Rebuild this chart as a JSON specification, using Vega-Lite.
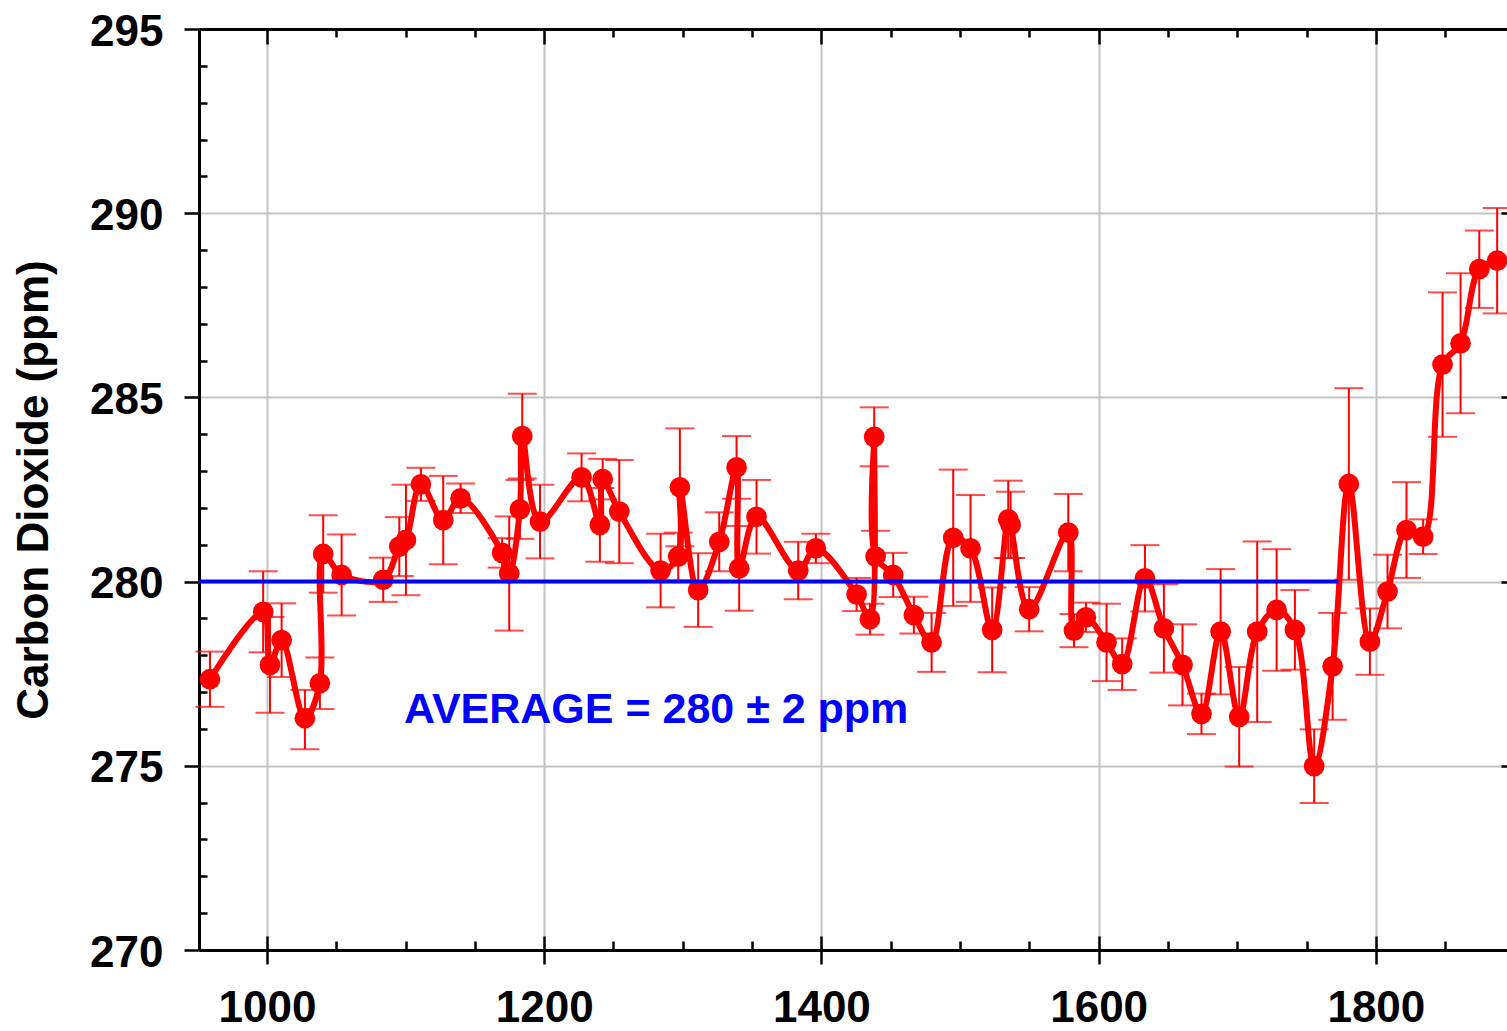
{
  "$schema": "https://vega.github.io/schema/vega-lite/v6.json",
  "width": 1308,
  "height": 921,
  "autosize": "none",
  "padding": {"left": 199, "top": 29, "right": 0, "bottom": 81},
  "background": "white",
  "config": {
    "view": {"stroke": null},
    "axis": {
      "tickColor": "black",
      "domainColor": "black",
      "labelFont": "Liberation Sans",
      "titleFont": "Liberation Sans",
      "tickWidth": 2.5,
      "domainWidth": 3
    }
  },
  "datasets": {
    "co2": [
      {"year": 958.9, "co2": 277.35, "lo": 276.6, "hi": 278.1},
      {"year": 997.3, "co2": 279.18, "lo": 278.08, "hi": 280.28},
      {"year": 1002.2, "co2": 277.74, "lo": 276.44, "hi": 279.04},
      {"year": 1010.6, "co2": 278.41, "lo": 277.41, "hi": 279.41},
      {"year": 1027.4, "co2": 276.29, "lo": 275.45, "hi": 277.06},
      {"year": 1038.2, "co2": 277.24, "lo": 276.54, "hi": 277.94},
      {"year": 1040.6, "co2": 280.75, "lo": 279.7, "hi": 281.8},
      {"year": 1053.9, "co2": 280.18, "lo": 279.08, "hi": 281.28},
      {"year": 1083.9, "co2": 280.05, "lo": 279.45, "hi": 280.65},
      {"year": 1095.5, "co2": 280.95, "lo": 280.15, "hi": 281.75},
      {"year": 1100.3, "co2": 281.13, "lo": 279.63, "hi": 282.63},
      {"year": 1111.1, "co2": 282.64, "lo": 282.19, "hi": 283.09},
      {"year": 1127.2, "co2": 281.67, "lo": 280.47, "hi": 282.87},
      {"year": 1139.7, "co2": 282.26, "lo": 281.86, "hi": 282.66},
      {"year": 1169.7, "co2": 280.78, "lo": 280.38, "hi": 281.18},
      {"year": 1174.8, "co2": 280.22, "lo": 278.67, "hi": 281.77},
      {"year": 1182.5, "co2": 281.96, "lo": 281.16, "hi": 282.76},
      {"year": 1184.2, "co2": 283.95, "lo": 282.8, "hi": 285.1},
      {"year": 1197.0, "co2": 281.63, "lo": 280.63, "hi": 282.63},
      {"year": 1227.0, "co2": 282.83, "lo": 282.18, "hi": 283.48},
      {"year": 1240.2, "co2": 281.54, "lo": 280.54, "hi": 282.54},
      {"year": 1242.2, "co2": 282.78, "lo": 282.23, "hi": 283.33},
      {"year": 1254.2, "co2": 281.9, "lo": 280.5, "hi": 283.3},
      {"year": 1284.0, "co2": 280.3, "lo": 279.3, "hi": 281.3},
      {"year": 1296.7, "co2": 280.68, "lo": 280.03, "hi": 281.33},
      {"year": 1297.9, "co2": 282.56, "lo": 280.96, "hi": 284.16},
      {"year": 1311.1, "co2": 279.77, "lo": 278.77, "hi": 280.77},
      {"year": 1326.3, "co2": 281.08, "lo": 280.28, "hi": 281.88},
      {"year": 1338.8, "co2": 283.1, "lo": 282.25, "hi": 283.95},
      {"year": 1340.7, "co2": 280.36, "lo": 279.21, "hi": 281.51},
      {"year": 1353.2, "co2": 281.76, "lo": 280.76, "hi": 282.76},
      {"year": 1383.3, "co2": 280.3, "lo": 279.52, "hi": 281.08},
      {"year": 1396.0, "co2": 280.9, "lo": 280.5, "hi": 281.3},
      {"year": 1425.4, "co2": 279.65, "lo": 279.2, "hi": 280.1},
      {"year": 1435.0, "co2": 278.98, "lo": 278.56, "hi": 279.4},
      {"year": 1438.1, "co2": 283.93, "lo": 283.13, "hi": 284.73},
      {"year": 1439.1, "co2": 280.68, "lo": 279.98, "hi": 281.38},
      {"year": 1451.8, "co2": 280.18, "lo": 279.58, "hi": 280.78},
      {"year": 1466.7, "co2": 279.09, "lo": 278.59, "hi": 279.59},
      {"year": 1479.5, "co2": 278.35, "lo": 277.55, "hi": 279.15},
      {"year": 1495.1, "co2": 281.19, "lo": 279.34, "hi": 283.04},
      {"year": 1507.6, "co2": 280.9, "lo": 279.45, "hi": 282.35},
      {"year": 1523.2, "co2": 278.69, "lo": 277.54, "hi": 279.84},
      {"year": 1534.8, "co2": 281.69, "lo": 280.64, "hi": 282.74},
      {"year": 1536.5, "co2": 281.54, "lo": 280.64, "hi": 282.44},
      {"year": 1549.9, "co2": 279.25, "lo": 278.65, "hi": 279.85},
      {"year": 1578.1, "co2": 281.33, "lo": 280.28, "hi": 282.38},
      {"year": 1582.2, "co2": 278.67, "lo": 278.22, "hi": 279.12},
      {"year": 1590.8, "co2": 279.03, "lo": 278.63, "hi": 279.43},
      {"year": 1605.7, "co2": 278.35, "lo": 277.3, "hi": 279.4},
      {"year": 1617.0, "co2": 277.76, "lo": 277.06, "hi": 278.46},
      {"year": 1633.4, "co2": 280.09, "lo": 279.19, "hi": 280.99},
      {"year": 1647.1, "co2": 278.73, "lo": 277.53, "hi": 279.93},
      {"year": 1660.5, "co2": 277.74, "lo": 276.64, "hi": 278.84},
      {"year": 1674.2, "co2": 276.41, "lo": 275.86, "hi": 276.96},
      {"year": 1688.0, "co2": 278.64, "lo": 276.94, "hi": 280.34},
      {"year": 1701.4, "co2": 276.33, "lo": 274.98, "hi": 277.68},
      {"year": 1714.4, "co2": 278.64, "lo": 276.19, "hi": 281.09},
      {"year": 1728.4, "co2": 279.23, "lo": 277.58, "hi": 280.88},
      {"year": 1741.6, "co2": 278.69, "lo": 277.61, "hi": 279.77},
      {"year": 1755.5, "co2": 274.99, "lo": 273.99, "hi": 275.99},
      {"year": 1768.8, "co2": 277.7, "lo": 276.25, "hi": 279.15},
      {"year": 1780.5, "co2": 282.65, "lo": 280.05, "hi": 285.25},
      {"year": 1795.7, "co2": 278.37, "lo": 277.47, "hi": 279.27},
      {"year": 1808.4, "co2": 279.73, "lo": 278.73, "hi": 280.73},
      {"year": 1822.1, "co2": 281.4, "lo": 280.1, "hi": 282.7},
      {"year": 1834.1, "co2": 281.22, "lo": 280.75, "hi": 281.69},
      {"year": 1848.1, "co2": 285.89, "lo": 283.93, "hi": 287.85},
      {"year": 1861.1, "co2": 286.47, "lo": 284.57, "hi": 288.37},
      {"year": 1874.6, "co2": 288.48, "lo": 287.43, "hi": 289.53},
      {"year": 1887.5, "co2": 288.71, "lo": 287.28, "hi": 290.14}
    ],
    "avg": [{"start": 951, "end": 1773, "avg": 280}],
    "note": [{"label": "AVERAGE = 280 ± 2 ppm"}]
  },
  "resolve": {"axis": {"x": "independent", "y": "independent"}},
  "layer": [
    {
      "data": {"name": "co2"},
      "mark": {"type": "rule", "color": "#ff0000", "strokeWidth": 2},
      "encoding": {
        "x": {"field": "year", "type": "quantitative",
          "scale": {"domain": [951, 1894.6], "nice": false, "zero": false},
          "axis": {"orient": "bottom", "values": [1000, 1200, 1400, 1600, 1800], "format": "d", "tickSize": 14,
            "grid": true, "gridColor": "#c4c4c4", "gridWidth": 2,
            "labelFontSize": 44, "labelFontWeight": "bold", "labelColor": "black",
            "labelPadding": 22, "labelBaseline": "top", "labelFlush": false, "labelOverlap": false,
            "title": null}},
        "y": {"field": "lo", "type": "quantitative",
          "scale": {"domain": [270, 295], "nice": false, "zero": false},
          "axis": {"orient": "left", "values": [270, 275, 280, 285, 290, 295], "tickSize": 15,
            "grid": true, "gridColor": "#c4c4c4", "gridWidth": 2,
            "labelFontSize": 44, "labelFontWeight": "bold", "labelColor": "black",
            "labelPadding": 21, "labelOffset": 3, "labelFlush": false, "labelOverlap": false,
            "title": "Carbon Dioxide (ppm)", "titleFontSize": 44, "titleFontWeight": "bold",
            "titleColor": "black", "titleAngle": 270, "titleX": -152, "titleY": 460.5,
            "titleAlign": "center", "titleBaseline": "alphabetic"}},
        "y2": {"field": "hi"}
      }
    },
    {
      "data": {"name": "co2"},
      "mark": {"type": "tick", "orient": "horizontal", "color": "#ff0000", "size": 29, "thickness": 2},
      "encoding": {
        "x": {"field": "year", "type": "quantitative",
          "axis": {"orient": "bottom", "values": [1050, 1100, 1150, 1250, 1300, 1350, 1450, 1500, 1550, 1650, 1700, 1750, 1850],
            "tickSize": -9, "labels": false, "domain": false, "grid": false, "title": null}},
        "y": {"field": "lo", "type": "quantitative",
          "axis": {"orient": "left", "values": [271, 272, 273, 274, 276, 277, 278, 279, 281, 282, 283, 284, 286, 287, 288, 289, 291, 292, 293, 294],
            "tickSize": -8, "labels": false, "domain": false, "grid": false, "title": null}}
      }
    },
    {
      "data": {"name": "co2"},
      "mark": {"type": "tick", "orient": "horizontal", "color": "#ff0000", "size": 29, "thickness": 2},
      "encoding": {
        "x": {"field": "year", "type": "quantitative",
          "axis": {"orient": "bottom", "values": [1000, 1200, 1400, 1600, 1800],
            "tickSize": -14, "labels": false, "domain": false, "grid": false, "title": null}},
        "y": {"field": "hi", "type": "quantitative",
          "axis": {"orient": "right", "offset": 8, "values": [271, 272, 273, 274, 276, 277, 278, 279, 281, 282, 283, 284, 286, 287, 288, 289, 291, 292, 293, 294],
            "tickSize": -8, "labels": false, "domain": true, "grid": false, "title": null}}
      }
    },
    {
      "data": {"name": "co2"},
      "mark": {"type": "line", "color": "#ff0000", "strokeWidth": 6, "interpolate": "catmull-rom"},
      "encoding": {
        "x": {"field": "year", "type": "quantitative",
          "axis": {"orient": "top", "values": [1050, 1100, 1150, 1250, 1300, 1350, 1450, 1500, 1550, 1650, 1700, 1750, 1850],
            "tickSize": -8, "labels": false, "domain": true, "grid": false, "title": null}},
        "y": {"field": "co2", "type": "quantitative",
          "axis": {"orient": "right", "offset": 8, "values": [270, 275, 280, 285, 290, 295],
            "tickSize": -14, "labels": false, "domain": false, "grid": false, "title": null}}
      }
    },
    {
      "data": {"name": "co2"},
      "mark": {"type": "circle", "color": "#ff0000", "size": 430, "opacity": 1},
      "encoding": {
        "x": {"field": "year", "type": "quantitative",
          "axis": {"orient": "top", "values": [1000, 1200, 1400, 1600, 1800],
            "tickSize": -15, "labels": false, "domain": false, "grid": false, "title": null}},
        "y": {"field": "co2", "type": "quantitative", "axis": null}
      }
    },
    {
      "data": {"name": "avg"},
      "mark": {"type": "rule", "color": "#0000ff", "strokeWidth": 4},
      "encoding": {
        "x": {"field": "start", "type": "quantitative", "axis": null},
        "x2": {"field": "end"},
        "y": {"field": "avg", "type": "quantitative", "axis": null}
      }
    },
    {
      "data": {"name": "note"},
      "mark": {"type": "text", "align": "left", "baseline": "alphabetic", "font": "Liberation Sans",
        "fontSize": 43, "fontWeight": "bold", "color": "#0000ff"},
      "encoding": {
        "x": {"datum": 1098.9, "type": "quantitative", "axis": null},
        "y": {"datum": 276.15, "type": "quantitative", "axis": null},
        "text": {"field": "label"}
      }
    }
  ]
}
